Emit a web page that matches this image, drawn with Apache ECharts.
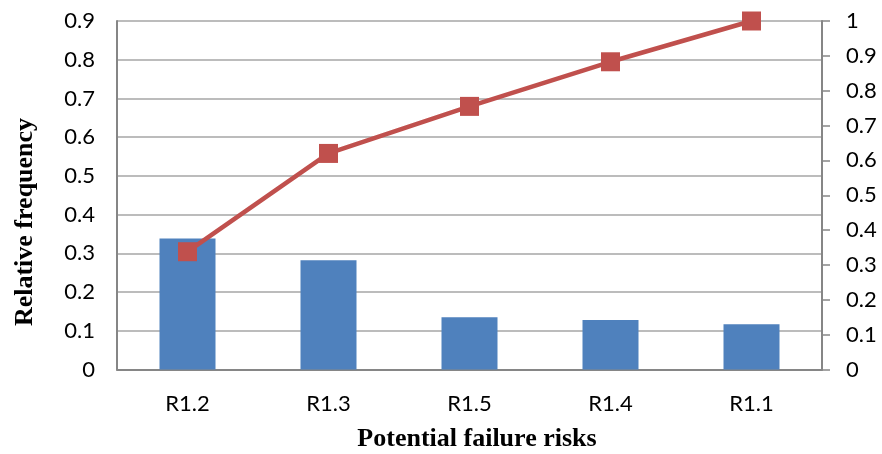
<!DOCTYPE html>
<html>
<head>
<meta charset="utf-8">
<script src="https://cdn.jsdelivr.net/npm/echarts@6/dist/echarts.min.js"></script>
<style>
  html, body { margin: 0; padding: 0; background: #fff; }
  #chart { width: 882px; height: 454px; }
</style>
</head>
<body>
<div id="chart"></div>
<script>
// Pareto chart of potential failure risks
const risks = ['R1.2', 'R1.3', 'R1.5', 'R1.4', 'R1.1'];
const relativeFrequency = [0.338, 0.282, 0.135, 0.128, 0.117];
const cumulativeFrequency = [0.338, 0.620, 0.755, 0.883, 1.0];

const xTitle = 'Potential failure risks';
const yTitle = 'Relative frequency';

const labelFont = { fontFamily: 'Lato', fontSize: 22, color: '#000' };
const titleFont = 'bold 26px "Liberation Serif"';

const chart = echarts.init(document.getElementById('chart'));
chart.setOption({
  animation: false,
  backgroundColor: '#fff',
  grid: { left: 117, right: 60, top: 21, bottom: 84.5 },
  xAxis: {
    type: 'category',
    data: risks,
    axisLine: { lineStyle: { color: '#868686', width: 2 } },
    axisTick: { show: false },
    axisLabel: Object.assign({ margin: 23 }, labelFont)
  },
  yAxis: [
    {
      type: 'value',
      min: 0, max: 0.9, interval: 0.1,
      axisLine: { show: true, lineStyle: { color: '#868686', width: 2 } },
      axisTick: { show: false },
      axisLabel: Object.assign({ margin: 22 }, labelFont),
      splitLine: { lineStyle: { color: '#A6A6A6', width: 1.5 } }
    },
    {
      type: 'value',
      min: 0, max: 1, interval: 0.1,
      position: 'right',
      axisLine: { show: true, lineStyle: { color: '#868686', width: 2 } },
      axisTick: { show: true, inside: false, length: 8, lineStyle: { color: '#868686', width: 1.5 } },
      axisLabel: Object.assign({ margin: 24 }, labelFont),
      splitLine: { show: false }
    }
  ],
  series: [
    {
      type: 'bar',
      yAxisIndex: 0,
      data: relativeFrequency,
      barWidth: 56,
      itemStyle: { color: '#4F81BD' }
    },
    {
      type: 'line',
      yAxisIndex: 1,
      data: cumulativeFrequency,
      symbol: 'rect',
      symbolSize: 19,
      lineStyle: { color: '#C0504D', width: 4.5 },
      itemStyle: { color: '#C0504D', borderColor: '#C0504D', borderWidth: 0 }
    }
  ],
  graphic: [
    {
      type: 'text',
      x: 25, y: 222,
      rotation: Math.PI / 2,
      style: { text: yTitle, font: titleFont, fill: '#000', align: 'center', verticalAlign: 'middle' }
    },
    {
      type: 'text',
      x: 477, y: 439,
      style: { text: xTitle, font: titleFont, fill: '#000', align: 'center', verticalAlign: 'middle' }
    }
  ]
});
</script>
</body>
</html>
